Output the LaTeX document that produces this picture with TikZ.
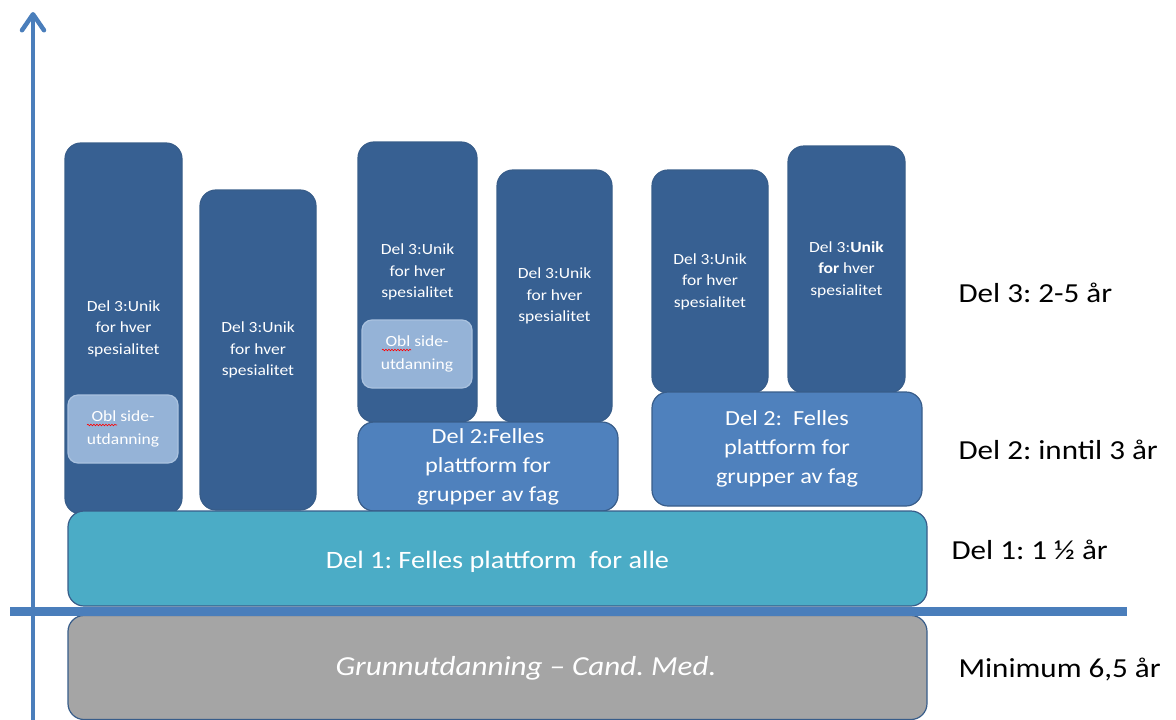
\documentclass[tikz,border=0pt]{standalone}
\usepackage{fontspec}
\setmainfont{Carlito}[FakeStretch=1.13]
\usetikzlibrary{arrows.meta,decorations.pathmorphing}
\definecolor{kolonne}{HTML}{376092}
\definecolor{felles}{HTML}{4F81BD}
\definecolor{obl}{HTML}{95B3D7}
\definecolor{alle}{HTML}{4BACC6}
\definecolor{grunn}{HTML}{A5A5A5}
\definecolor{kant}{HTML}{385D8A}
\definecolor{akse}{HTML}{4A7EBB}
\frenchspacing

\begin{document}
\begin{tikzpicture}[x=1pt,y=-1pt,
  boks/.style={draw=kant, line width=1.2pt, rounded corners=16pt, inner sep=0pt, text=white, align=center},
  del3/.style={boks, fill=kolonne, font=\fontsize{15.5}{21.5}\selectfont},
  side/.style={boks, draw=obl!80!white, fill=obl, rounded corners=10pt, minimum width=110pt, minimum height=68pt, font=\fontsize{15.5}{23}\selectfont},
  del2/.style={boks, fill=felles, font=\fontsize{21.5}{29}\selectfont},
  bred/.style={boks, minimum width=859pt, font=\fontsize{25}{29}\selectfont},
  aar/.style={anchor=base west, font=\fontsize{27.5}{30}\selectfont},
  strek/.style={red, line width=0.6pt, decorate, decoration={snake, amplitude=0.8pt, segment length=3pt}}]
\useasboundingbox (0,0) rectangle (1176,720);
% del 3 kolonner
\node[del3, minimum width=117pt, minimum height=371pt] (k1) at (123.5,328.5) {Del 3:Unik\\for hver\\spesialitet};
\node[del3, minimum width=116pt, minimum height=320pt] (k2) at (258,350) {Del 3:Unik\\for hver\\spesialitet};
\node[del3, minimum width=119pt, minimum height=280pt] (k3) at (417.5,282) {};
\node[del3, draw=none, fill=none] (t3) at (417.5,272) {Del 3:Unik\\for hver\\spesialitet};
\node[del3, minimum width=115pt, minimum height=252pt] (k4) at (554.5,296) {Del 3:Unik\\for hver\\spesialitet};
\node[del3, minimum width=116pt, minimum height=223pt] (k5) at (710,281.5) {Del 3:Unik\\for hver\\spesialitet};
\node[del3, minimum width=117pt, minimum height=247pt] (k6) at (846.5,269.5) {Del 3:\textbf{Unik}\\\textbf{for} hver\\spesialitet};
% obligatorisk sideutdanning
\node[side] (o1) at (123,429) {Obl side-\\utdanning};
\node[side] (o2) at (417,354) {Obl side-\\utdanning};
\draw[strek] (87,425) -- (117,425);
\draw[strek] (382,350) -- (411,350);
% del 2
\node[del2, minimum width=260pt, minimum height=89pt] (f1) at (488,466.5) {Del 2:Felles\\plattform for\\grupper av fag};
\node[del2, minimum width=270pt, minimum height=114pt] (f2) at (787,449) {Del 2:\ \ Felles\\plattform for\\grupper av fag};
% del 1 og grunnutdanning
\node[bred, fill=alle, minimum height=95pt] (d1) at (497.5,558.5) {};
\node[bred, draw=none, fill=none, minimum width=0pt] (d1t) at (497.5,562) {Del 1: Felles plattform\ \ for alle};
\node[bred, fill=grunn, minimum height=104pt] (g) at (497.5,667.5) {};
\node[bred, draw=none, fill=none, minimum width=0pt, font=\fontsize{27.5}{31}\selectfont\itshape] (gt) at (526,668) {Grunnutdanning -- Cand. Med.};
% akser
\coordinate (y0) at (33,720);
\coordinate (y1) at (33,12);
\coordinate (x0) at (10,611.5);
\coordinate (x1) at (1127,611.5);
\draw[akse, line width=4.5pt, -{Straight Barb[length=16pt,width=22pt,round]}] (y0) -- (y1);
\draw[akse, line width=9pt] (x0) -- (x1);
% varighet
\node[aar] (a3) at (955,302) {Del 3: 2-5 år};
\node[aar] (a2) at (955,459) {Del 2: inntil 3 år};
\node[aar] (a1) at (948,559) {Del 1: 1 ½ år};
\node[aar] (a0) at (955,677) {Minimum 6,5 år};
\end{tikzpicture}
\end{document}
